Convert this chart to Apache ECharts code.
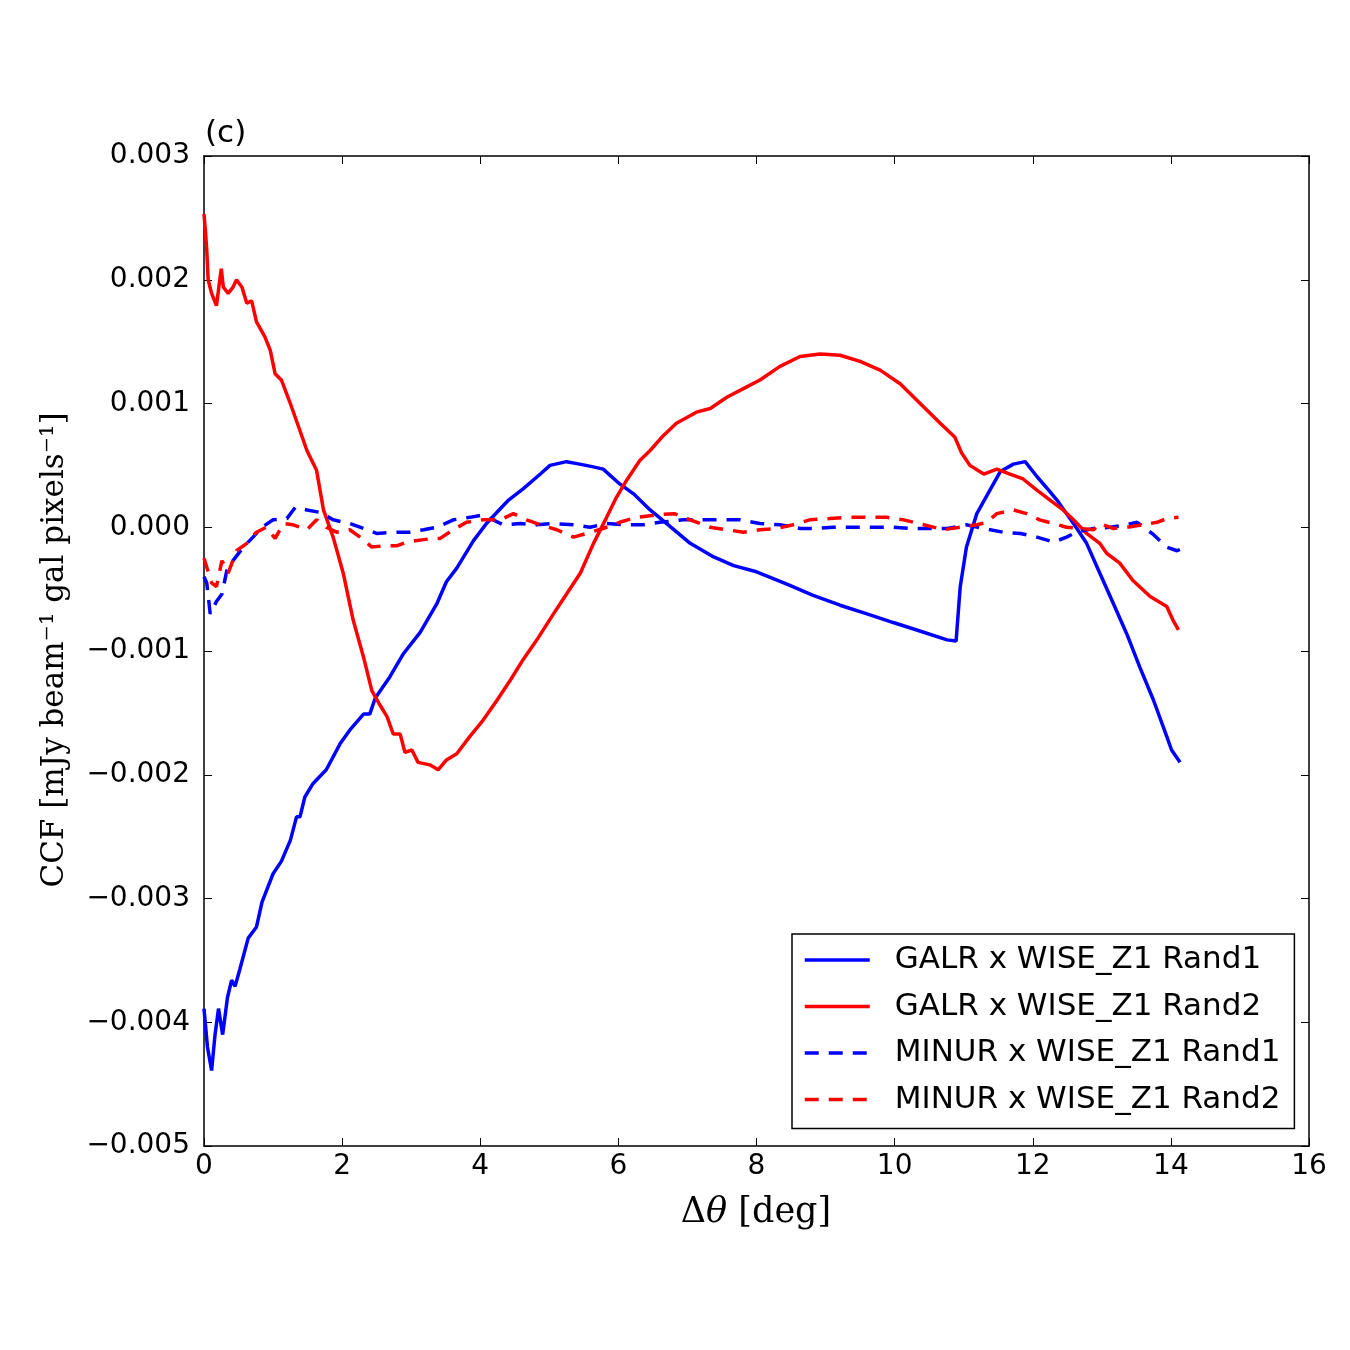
<!DOCTYPE html>
<html>
<head>
<meta charset="utf-8">
<script src="https://cdn.jsdelivr.net/npm/echarts@6/dist/echarts.min.js"></script>
<style>
  html, body { margin: 0; padding: 0; background: #fff; }
  #chart { width: 1350px; height: 1350px; }
</style>
</head>
<body>
<div id="chart"></div>
<script>
// series names
var names = ['GALR x WISE_Z1 Rand1', 'GALR x WISE_Z1 Rand2', 'MINUR x WISE_Z1 Rand1', 'MINUR x WISE_Z1 Rand2'];

// GALR x WISE_Z1 Rand1 (blue solid)
var galr1X = [0, 0.05, 0.11, 0.16, 0.21, 0.27, 0.34, 0.4, 0.45, 0.52, 0.64, 0.76, 0.84, 1.0, 1.12, 1.25, 1.34, 1.39, 1.46, 1.58, 1.77, 1.97, 2.11, 2.31, 2.40, 2.48, 2.69, 2.89, 3.13, 3.37, 3.51, 3.66, 3.90, 4.09, 4.29, 4.41, 4.62, 4.87, 5.01, 5.25, 5.44, 5.62, 5.78, 6.02, 6.22, 6.46, 6.70, 7.04, 7.38, 7.67, 8.0, 8.44, 8.82, 9.21, 9.6, 9.98, 10.32, 10.76, 10.89, 10.95, 11.04, 11.19, 11.38, 11.53, 11.72, 11.89, 12.06, 12.23, 12.35, 12.59, 12.78, 12.97, 13.17, 13.36, 13.55, 13.75, 13.94, 14.01, 14.11, 14.13];
var galr1Y = [-0.00389, -0.0042, -0.00439, -0.0041, -0.00389, -0.0041, -0.0038, -0.00366, -0.00371, -0.00357, -0.00332, -0.00323, -0.00303, -0.0028, -0.0027, -0.00253, -0.00234, -0.00234, -0.00218, -0.00207, -0.00196, -0.00175, -0.00164, -0.00151, -0.00151, -0.00138, -0.00121, -0.00102, -0.00085, -0.00062, -0.00044, -0.00033, -0.00011, 0.00003, 0.00015, 0.00022, 0.00031, 0.00043, 0.0005, 0.00053, 0.00051, 0.00049, 0.00047, 0.00035, 0.00027, 0.00014, 0.00003, -0.00013, -0.00024, -0.00031, -0.00036, -0.00046, -0.00055, -0.00063, -0.0007, -0.00077, -0.00083, -0.00091, -0.00092, -0.00048, -0.00016, 0.00011, 0.0003, 0.00045, 0.00051, 0.00053, 0.00041, 0.0003, 0.00022, 0.00003, -0.00013, -0.00037, -0.00062, -0.00086, -0.00113, -0.0014, -0.00169, -0.0018, -0.00188, -0.0019];

// GALR x WISE_Z1 Rand2 (red solid)
var galr2X = [0, 0.02, 0.04, 0.06, 0.11, 0.18, 0.25, 0.28, 0.35, 0.42, 0.47, 0.55, 0.62, 0.69, 0.76, 0.88, 0.96, 1.03, 1.12, 1.25, 1.39, 1.49, 1.63, 1.73, 1.87, 2.02, 2.16, 2.31, 2.43, 2.53, 2.65, 2.74, 2.84, 2.91, 3.01, 3.10, 3.27, 3.39, 3.51, 3.66, 3.85, 4.04, 4.24, 4.43, 4.62, 4.82, 5.06, 5.25, 5.45, 5.64, 5.83, 5.97, 6.12, 6.31, 6.46, 6.65, 6.84, 7.13, 7.33, 7.57, 7.81, 8.05, 8.34, 8.63, 8.92, 9.21, 9.5, 9.79, 10.08, 10.37, 10.66, 10.87, 10.97, 11.09, 11.29, 11.48, 11.67, 11.86, 12.06, 12.25, 12.44, 12.59, 12.78, 12.97, 13.07, 13.26, 13.45, 13.7, 13.94, 14.03, 14.11];
var galr2Y = [0.00253, 0.0024, 0.00224, 0.002, 0.00189, 0.00179, 0.00209, 0.00194, 0.00189, 0.00194, 0.002, 0.00194, 0.00181, 0.00183, 0.00166, 0.00154, 0.00143, 0.00124, 0.00119, 0.001, 0.00078, 0.00062, 0.00046, 0.00014, -0.00008, -0.00038, -0.00075, -0.00105, -0.00132, -0.00142, -0.00153, -0.00167, -0.00167, -0.00182, -0.0018, -0.0019, -0.00192, -0.00196, -0.00188, -0.00183, -0.00169, -0.00156, -0.0014, -0.00124, -0.00107, -0.00091, -0.0007, -0.00054, -0.00037, -0.00013, 0.00008, 0.00024, 0.00038, 0.00054, 0.00062, 0.00074, 0.00084, 0.00093, 0.00096, 0.00105, 0.00112, 0.00119, 0.0013, 0.00138, 0.0014, 0.00139, 0.00134, 0.00127, 0.00116, 0.001, 0.00084, 0.00073, 0.0006, 0.0005, 0.00043, 0.00047, 0.00043, 0.00039, 0.0003, 0.00022, 0.00014, 0.00006, -0.00005, -0.00013, -0.00021, -0.00029, -0.00043, -0.00056, -0.00064, -0.00075, -0.00083];

// MINUR x WISE_Z1 Rand1 (blue dashed)
var minur1X = [0, 0.04, 0.09, 0.18, 0.26, 0.33, 0.42, 0.57, 0.71, 0.84, 1.0, 1.2, 1.32, 1.49, 1.68, 1.87, 2.11, 2.31, 2.5, 2.79, 2.98, 3.18, 3.37, 3.61, 3.85, 4.04, 4.33, 4.58, 4.82, 5.06, 5.35, 5.59, 5.83, 6.07, 6.36, 6.60, 6.94, 7.23, 7.47, 7.76, 8.05, 8.34, 8.63, 8.87, 9.11, 9.40, 9.69, 9.98, 10.22, 10.51, 10.76, 11.04, 11.28, 11.57, 11.82, 12.06, 12.3, 12.49, 12.63, 12.88, 13.12, 13.36, 13.51, 13.75, 13.94, 14.09, 14.13];
var minur1Y = [-0.0004, -0.00045, -0.0007, -0.0006, -0.00054, -0.00035, -0.00027, -0.00016, -0.00008, 0.0, 0.00006, 0.00007, 0.00016, 0.00014, 0.00012, 0.00006, 0.00003, -0.00001, -0.00005, -0.00004, -0.00004, -0.00002, 0.0, 0.00006, 0.00008, 0.0001, 0.00002, 0.00003, 0.00002, 0.00003, 0.00002, 0.0, 0.00003, 0.00002, 0.00002, 0.00004, 0.00006, 0.00006, 0.00006, 0.00006, 0.00003, 0.00002, -0.00001, -0.00001, 0.0, 0.0, 0.0, 0.0, -0.00001, -0.00001, -0.00001, 0.00002, -0.00001, -0.00004, -0.00005, -0.00008, -0.00012, -0.00008, -0.00004, -0.00001, 0.0, 0.00002, 0.00004, -0.00006, -0.00016, -0.00019, -0.00018];

// MINUR x WISE_Z1 Rand2 (red dashed)
var minur2X = [0, 0.11, 0.18, 0.26, 0.35, 0.47, 0.62, 0.76, 0.9, 1.03, 1.15, 1.29, 1.49, 1.63, 1.77, 1.92, 2.11, 2.26, 2.43, 2.6, 2.79, 2.94, 3.18, 3.42, 3.61, 3.80, 4.04, 4.29, 4.48, 4.67, 4.87, 5.11, 5.35, 5.54, 5.78, 6.02, 6.26, 6.55, 6.81, 7.04, 7.33, 7.57, 7.81, 8.05, 8.29, 8.53, 8.77, 9.06, 9.3, 9.6, 9.89, 10.13, 10.42, 10.71, 10.95, 11.19, 11.33, 11.48, 11.72, 11.91, 12.1, 12.3, 12.49, 12.68, 12.88, 12.97, 13.17, 13.36, 13.6, 13.8, 13.94, 14.11];
var minur2Y = [-0.00025, -0.00045, -0.00048, -0.00027, -0.00037, -0.00019, -0.00013, -0.00004, 0.0, -0.00009, 0.00003, 0.00002, -0.00002, 0.00006, 0.0, -0.00004, -0.00002, -0.00008, -0.00016, -0.00015, -0.00015, -0.00012, -0.0001, -0.00009, -0.00002, 0.00004, 0.00006, 0.00006, 0.00011, 0.00006, 0.00002, -0.00002, -0.00008, -0.00005, -0.00001, 0.00004, 0.00008, 0.0001, 0.00011, 0.00006, 0.0, -0.00002, -0.00004, -0.00002, -0.00001, 0.00002, 0.00006, 0.00007, 0.00008, 0.00008, 0.00008, 0.00006, 0.00002, -0.00002, 0.0, 0.00002, 0.00004, 0.00011, 0.00014, 0.00011, 0.00006, 0.00003, 0.0, -0.00001, -0.00002, 0.00003, -0.00001, 0.0, 0.00002, 0.00004, 0.00007, 0.00008];

// axis ranges
var xMin = 0, xMax = 16, xStep = 2;
var yMin = -0.005, yMax = 0.003, yStep = 0.001;

function pairs(xs, ys) {
    return xs.map(function (x, i) { return [x, ys[i]]; });
}

function yLabel(v) {
    return v.toFixed(3).replace('-', '\u2212');
}

var chart = echarts.init(document.getElementById('chart'), null, { renderer: 'canvas' });

var tickFont = { fontFamily: 'DejaVu Sans', fontSize: 28, color: '#000' };

function frameAxis(pos, isX, showLabel) {
    var a = {
        type: 'value',
        position: pos,
        axisLine: { show: true, onZero: false, lineStyle: { color: '#000', width: 1.5 } },
        axisTick: { show: true, inside: true, length: 8, lineStyle: { color: '#000', width: 1 } },
        splitLine: { show: false },
        axisLabel: { show: showLabel }
    };
    if (isX) {
        a.min = xMin; a.max = xMax; a.interval = xStep;
        a.axisLabel = Object.assign({ show: showLabel, margin: 7 }, tickFont);
    } else {
        a.min = yMin; a.max = yMax; a.interval = yStep;
        a.axisLabel = Object.assign({ show: showLabel, margin: 14, formatter: yLabel }, tickFont);
    }
    return a;
}

function line(name, data, color, dashed) {
    return {
        name: name,
        type: 'line',
        data: data,
        symbol: 'none',
        smooth: false,
        animation: false,
        lineStyle: { color: color, width: 3.5, type: dashed ? [14, 10] : 'solid' },
        itemStyle: { color: color }
    };
}

var option = {
    backgroundColor: '#fff',
    animation: false,
    grid: { left: 204, top: 156, width: 1105, height: 990, containLabel: false },
    xAxis: [frameAxis('bottom', true, true), frameAxis('top', true, false)],
    yAxis: [frameAxis('left', false, true), frameAxis('right', false, false)],
    legend: {
        orient: 'vertical',
        left: 792,
        top: 934,
        itemWidth: 65,
        itemHeight: 14,
        itemGap: 12.5,
        padding: [9, 14, 12, 11],
        borderColor: '#000',
        borderWidth: 1.5,
        backgroundColor: '#fff',
        data: names,
        itemStyle: { opacity: 0, borderWidth: 0 },
        lineStyle: { width: 3.5 },
        textStyle: { fontFamily: 'DejaVu Sans', fontSize: 31, color: '#000', lineHeight: 34, padding: [0, 0, 0, 20] }
    },
    graphic: [
        {
            type: 'text', left: 205, top: 118,
            style: { text: '(c)', font: '31px "DejaVu Sans"', fill: '#000' }
        },
        {
            type: 'text', x: 756, y: 1213,
            style: {
                text: '{a|\u0394}{i|\u03b8}{a| [deg]}',
                align: 'center', verticalAlign: 'middle',
                rich: {
                    a: { fontFamily: 'DejaVu Serif', fontSize: 35, fill: '#000' },
                    i: { fontFamily: 'DejaVu Serif', fontStyle: 'italic', fontSize: 35, fill: '#000' }
                }
            }
        },
        {
            type: 'text', x: 55, y: 650, rotation: Math.PI / 2,
            style: {
                text: 'CCF [mJy beam\u207b\u00b9 gal pixels\u207b\u00b9]',
                align: 'center', verticalAlign: 'middle',
                font: '31px "DejaVu Serif"', fill: '#000'
            }
        }
    ],
    series: [
        line(names[0], pairs(galr1X, galr1Y), '#0000ff', false),
        line(names[1], pairs(galr2X, galr2Y), '#ff0000', false),
        line(names[2], pairs(minur1X, minur1Y), '#0000ff', true),
        line(names[3], pairs(minur2X, minur2Y), '#ff0000', true)
    ]
};

chart.setOption(option);
</script>
</body>
</html>
